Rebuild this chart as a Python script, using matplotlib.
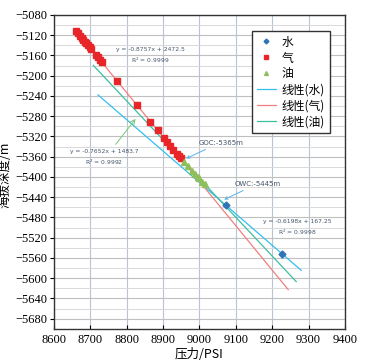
import matplotlib
matplotlib.use("Agg")
import matplotlib.pyplot as plt
import numpy as np

# water points
water_p = [9073, 9228]
water_d = [-5456, -5552]
# gas points
gas_p = [8661, 8666, 8672, 8677, 8681, 8685, 8688, 8693, 8698, 8701, 8715, 8721, 8727,
         8732, 8773, 8828, 8865, 8885, 8902, 8911, 8920, 8928, 8939, 8943, 8948]
gas_d = [-5112, -5116, -5121, -5126, -5129, -5133, -5135, -5140, -5144, -5147, -5159, -5164,
         -5170, -5174, -5210, -5258, -5291, -5308, -5323, -5331, -5339, -5346, -5355, -5359, -5363]
# oil points
oil_p = [8958, 8968, 8980, 8988, 8995, 9000, 9008, 9015]
oil_d = [-5371, -5379, -5388, -5394, -5400, -5403, -5409, -5414]

# trend lines: slope, intercept, pressure range
water_fit = (-0.6198, 167.25, 8721, 9280)
gas_fit = (-0.8757, 2472.5, 8661, 9244)
oil_fit = (-0.7652, 1483.7, 8708, 9266)

cjk = ['Noto Sans CJK SC', 'Liberation Serif']

fig = plt.figure(figsize=(3.65, 3.63), dpi=100)
ax = fig.add_axes([0.148, 0.094, 0.797, 0.865])

ax.set_xlim(8600, 9400)
ax.set_ylim(-5700, -5080)
ax.set_xticks(np.arange(8600, 9401, 100))
ax.set_yticks(np.arange(-5680, -5079, 40))
ax.set_yticks(np.arange(-5700, -5079, 20), minor=True)
ax.grid(axis='x', color='#b8c4d4', lw=0.8)
ax.grid(axis='y', which='major', color='#bfbfbf', lw=0.8)
ax.grid(axis='y', which='minor', color='#d9d9d9', lw=0.7)
ax.set_axisbelow(True)
ax.tick_params(axis='x', direction='in', length=3, labelsize=9, width=0.8, pad=4)
ax.tick_params(axis='y', which='major', direction='out', length=3, labelsize=9, width=0.8, pad=1.5)
ax.tick_params(axis='y', which='minor', length=0)
for lab in ax.get_xticklabels() + ax.get_yticklabels():
    lab.set_family('Liberation Serif')
for s in ax.spines.values():
    s.set_color('#333333')
    s.set_linewidth(1.0)

ax.plot(water_p, water_d, 'D', color='#2e75b6', ms=3.5, label='水', zorder=4)
ax.plot(gas_p, gas_d, 's', color='#e8262a', ms=4.5, label='气', zorder=4)
ax.plot(oil_p, oil_d, '^', color='#8fbf5a', ms=4, label='油', zorder=4)

for fit, col, lab in [(water_fit, '#33bff0', '线性(水)'),
                      (gas_fit, '#f07f7f', '线性(气)'),
                      (oil_fit, '#3cbf9f', '线性(油)')]:
    k, b, x0, x1 = fit
    xs = np.array([x0, x1])
    ax.plot(xs, k * xs + b, color=col, lw=0.9, label=lab, zorder=3)

txt = '#44546a'
ax.text(8865, -5162, 'y = -0.8757x + 2472.5\nR$^2$ = 0.9999', fontsize=4.3, color=txt,
        ha='center', va='center', linespacing=1.5)
ax.text(8738, -5363, 'y = -0.7652x + 1483.7\nR$^2$ = 0.9992', fontsize=4.3, color=txt,
        ha='center', va='center', linespacing=1.5)
ax.text(9268, -5500, 'y = -0.6198x + 167.25\nR$^2$ = 0.9998', fontsize=4.3, color=txt,
        ha='center', va='center', linespacing=1.5)
ax.annotate('', xy=(8829, -5281), xytext=(8765, -5340),
            arrowprops=dict(arrowstyle='->', color='#7cc576', lw=0.7))
ax.annotate('GOC:-5365m', xy=(8956, -5366), xytext=(9058, -5332), fontsize=5, color=txt,
            ha='center', va='center',
            arrowprops=dict(arrowstyle='->', color='#5ab4e8', lw=0.7, shrinkA=2))
ax.annotate('OWC:-5445m', xy=(9061, -5447), xytext=(9161, -5413), fontsize=5, color=txt,
            ha='center', va='center',
            arrowprops=dict(arrowstyle='->', color='#5ab4e8', lw=0.7, shrinkA=2))

ax.set_xlabel('压力/PSI', family=cjk, fontsize=9, labelpad=1)
ax.set_ylabel('海拔深度/m', family=cjk, fontsize=9)
ax.yaxis.set_label_coords(-0.145, 0.49)

leg = ax.legend(loc='upper right', bbox_to_anchor=(0.968, 0.968), prop={'family': cjk, 'size': 8.5},
                frameon=True, fancybox=False, edgecolor='#333333', framealpha=1,
                handlelength=1.6, handletextpad=0.5, labelspacing=0.25, borderpad=0.4,
                markerscale=0.7)
leg.get_frame().set_linewidth(1.0)

fig.savefig('out.png', dpi=100)
